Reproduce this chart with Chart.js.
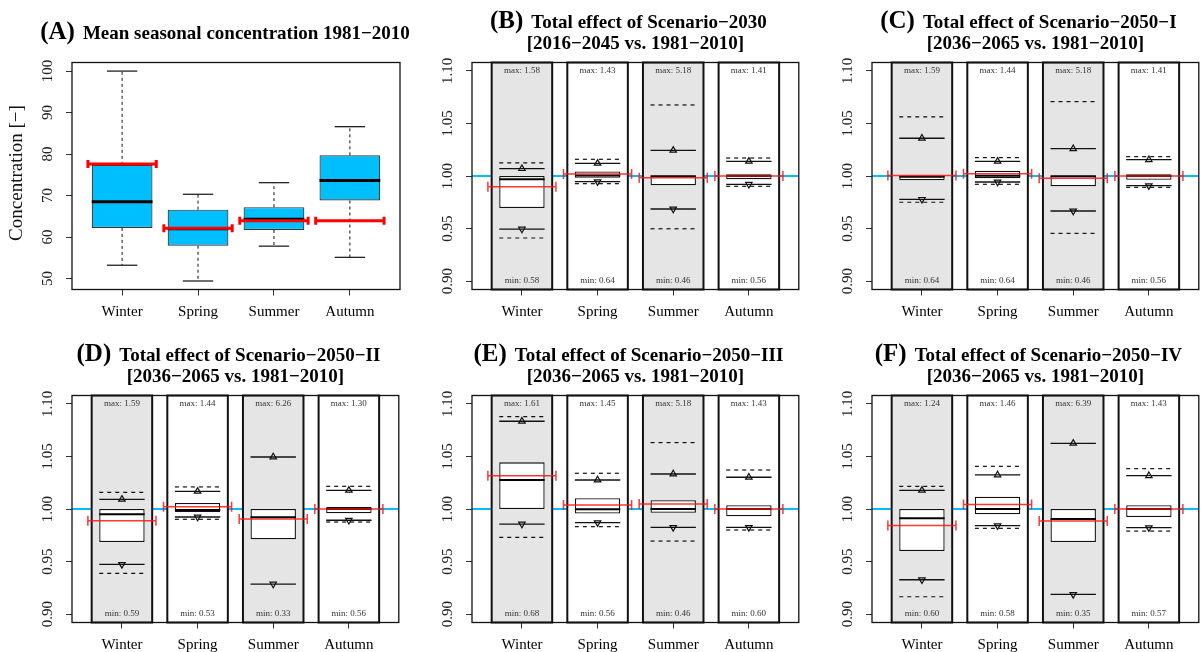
<!DOCTYPE html>
<html>
<head>
<meta charset="utf-8">
<script src="https://cdn.jsdelivr.net/npm/chart.js@4.4.1/dist/chart.umd.min.js"></script>
<style>
  html, body { margin: 0; padding: 0; background: #fff; width: 1204px; height: 652px; overflow: hidden; }
  canvas { position: absolute; }
</style>
</head>
<body>
<canvas id="pA" width="420" height="333" style="left:0px;top:0px"></canvas>
<canvas id="pB" width="404" height="333" style="left:400px;top:0px"></canvas>
<canvas id="pC" width="404" height="333" style="left:800px;top:0px"></canvas>
<canvas id="pD" width="404" height="319" style="left:0px;top:333px"></canvas>
<canvas id="pE" width="404" height="319" style="left:400px;top:333px"></canvas>
<canvas id="pF" width="404" height="319" style="left:800px;top:333px"></canvas>
<script>
const SERIF = '"Liberation Serif", "Times New Roman", serif';

const seasons = ['Winter', 'Spring', 'Summer', 'Autumn'];

// (A) mean seasonal concentration 1981−2010: box statistics per season
const concWhiskerLow  = [53.2, 49.4, 57.8, 55.1];
const concQ1          = [62.2, 57.9, 61.7, 68.8];
const concMedian      = [68.5, 62.0, 64.3, 73.6];
const concQ3          = [77.4, 66.6, 67.2, 79.7];
const concWhiskerHigh = [100.0, 70.3, 73.1, 86.6];
const concMean        = [77.6, 62.1, 63.9, 63.9];
const concTickValues  = [50, 60, 70, 80, 90, 100];

// (B)–(F) ratio of future to reference period; one row per scenario, one value per season
const scenarioLabels  = ['(B)', '(C)', '(D)', '(E)', '(F)'];
const scenarioTitles  = ['Total effect of Scenario\u22122030',
                         'Total effect of Scenario\u22122050\u2212I',
                         'Total effect of Scenario\u22122050\u2212II',
                         'Total effect of Scenario\u22122050\u2212III',
                         'Total effect of Scenario\u22122050\u2212IV'];
const scenarioPeriods = ['[2016\u22122045 vs. 1981\u22122010]',
                         '[2036\u22122065 vs. 1981\u22122010]',
                         '[2036\u22122065 vs. 1981\u22122010]',
                         '[2036\u22122065 vs. 1981\u22122010]',
                         '[2036\u22122065 vs. 1981\u22122010]'];

const ratioDashHigh  = [[1.0124, 1.0159, 1.0676, 1.0171],
                        [1.0562, 1.0175, 1.0708, 1.0184],
                        [1.0159, 1.0210, null,   1.0216],
                        [1.0879, 1.0340, 1.0632, 1.0371],
                        [1.0216, 1.0406, null,   1.0384]];
const ratioSolidHigh = [[1.0070, 1.0121, 1.0244, 1.0140],
                        [1.0359, 1.0140, 1.0260, 1.0155],
                        [1.0092, 1.0168, 1.0495, 1.0178],
                        [1.0835, 1.0276, 1.0333, 1.0302],
                        [1.0178, 1.0324, 1.0625, 1.0317]];
const ratioQ3        = [[1.0000, 1.0044, 1.0000, 1.0016],
                        [1.0003, 1.0050, 1.0000, 1.0016],
                        [1.0000, 1.0057, 1.0000, 1.0019],
                        [1.0444, 1.0102, 1.0083, 1.0035],
                        [1.0000, 1.0117, 1.0000, 1.0035]];
const ratioMedian    = [[0.9968, 1.0005, 0.9998, 1.0000],
                        [0.9992, 1.0003, 0.9998, 1.0000],
                        [0.9949, 0.9990, 0.9921, 1.0000],
                        [1.0276, 0.9997, 1.0000, 1.0000],
                        [0.9911, 1.0000, 0.9905, 1.0000]];
const ratioQ1        = [[0.9695, 0.9984, 0.9911, 0.9968],
                        [0.9959, 0.9978, 0.9902, 0.9965],
                        [0.9686, 0.9971, 0.9711, 0.9959],
                        [1.0000, 0.9956, 0.9965, 0.9930],
                        [0.9600, 0.9949, 0.9686, 0.9924]];
const ratioSolidLow  = [[0.9495, 0.9946, 0.9686, 0.9921],
                        [0.9778, 0.9943, 0.9667, 0.9908],
                        [0.9473, 0.9924, 0.9286, 0.9893],
                        [0.9857, 0.9870, 0.9825, 0.9825],
                        [0.9327, 0.9841, 0.9187, 0.9822]];
const ratioDashLow   = [[0.9410, 0.9927, 0.9498, 0.9902],
                        [0.9750, 0.9921, 0.9454, 0.9892],
                        [0.9387, 0.9902, null,   0.9876],
                        [0.9730, 0.9832, 0.9695, 0.9800],
                        [0.9165, 0.9816, null,   0.9790]];
const ratioMean      = [[0.9898, 1.0019, 0.9984, 1.0000],
                        [1.0005, 1.0022, 0.9978, 1.0000],
                        [0.9889, 1.0022, 0.9905, 1.0000],
                        [1.0317, 1.0038, 1.0048, 1.0000],
                        [0.9844, 1.0044, 0.9886, 1.0000]];
const ratioMaxText   = [['1.58', '1.43', '5.18', '1.41'],
                        ['1.59', '1.44', '5.18', '1.41'],
                        ['1.59', '1.44', '6.26', '1.30'],
                        ['1.61', '1.45', '5.18', '1.43'],
                        ['1.24', '1.46', '6.39', '1.43']];
const ratioMinText   = [['0.58', '0.64', '0.46', '0.56'],
                        ['0.64', '0.64', '0.46', '0.56'],
                        ['0.59', '0.53', '0.33', '0.56'],
                        ['0.68', '0.56', '0.46', '0.60'],
                        ['0.60', '0.58', '0.35', '0.57']];
const ratioTickLabels = ['0.90', '0.95', '1.00', '1.05', '1.10'];
const ratioReference  = 1.0;
const columnFills     = ['#E5E5E5', '#FFFFFF', '#E5E5E5', '#FFFFFF'];

// ---------- drawing helpers ----------
function hSeg(ctx, xs, ys, xc, half, v, color, width, dash) {
  if (v == null) return;
  const y = ys.getPixelForValue(v);
  ctx.save();
  ctx.strokeStyle = color; ctx.lineWidth = width; ctx.setLineDash(dash || []);
  ctx.beginPath();
  ctx.moveTo(xs.getPixelForValue(xc - half), y);
  ctx.lineTo(xs.getPixelForValue(xc + half), y);
  ctx.stroke();
  ctx.restore();
}

function meanBar(ctx, xs, ys, xc, half, v, color, width, capH) {
  const y = ys.getPixelForValue(v);
  const x1 = xs.getPixelForValue(xc - half), x2 = xs.getPixelForValue(xc + half);
  ctx.save();
  ctx.strokeStyle = color; ctx.lineWidth = width; ctx.setLineDash([]);
  ctx.beginPath();
  ctx.moveTo(x1, y); ctx.lineTo(x2, y);
  ctx.moveTo(x1, y - capH); ctx.lineTo(x1, y + capH);
  ctx.moveTo(x2, y - capH); ctx.lineTo(x2, y + capH);
  ctx.stroke();
  ctx.restore();
}

function drawFrame(chart) {
  const { ctx, chartArea: a } = chart;
  ctx.save();
  ctx.strokeStyle = '#111'; ctx.lineWidth = 1.3;
  ctx.strokeRect(a.left, a.top, a.right - a.left, a.bottom - a.top);
  ctx.restore();
}

function drawYLabels(chart, values, labels) {
  const { ctx, chartArea: a } = chart;
  const ys = chart.scales.y;
  ctx.save();
  ctx.font = '15px ' + SERIF; ctx.fillStyle = '#222';
  ctx.textAlign = 'center'; ctx.textBaseline = 'middle';
  values.forEach((v, i) => {
    ctx.save();
    ctx.translate(a.left - 24, ys.getPixelForValue(v));
    ctx.rotate(-Math.PI / 2);
    ctx.fillText(labels[i], 0, 0);
    ctx.restore();
  });
  ctx.restore();
}

function drawTitle(chart, label, line1, line2, base1, base2, shift) {
  const { ctx, chartArea: a } = chart;
  const mid = (a.left + a.right) / 2;
  ctx.save();
  ctx.fillStyle = '#000'; ctx.textBaseline = 'alphabetic'; ctx.textAlign = 'left';
  ctx.font = 'bold 25px ' + SERIF; const wl = ctx.measureText(label).width;
  ctx.font = 'bold 19px ' + SERIF; const wt = ctx.measureText(line1).width;
  const gap = 8;
  const x = mid - shift - (wl + gap + wt) / 2;
  ctx.font = 'bold 25px ' + SERIF; ctx.fillText(label, x, base1);
  ctx.font = 'bold 19px ' + SERIF; ctx.fillText(line1, x + wl + gap, base1);
  if (line2) { ctx.textAlign = 'center'; ctx.fillText(line2, mid, base2); }
  ctx.restore();
}

function baseOptions(yMin, yMax, yTicks, canvasH, padRight) {
  return {
    responsive: false,
    animation: false,
    events: [],
    layout: { padding: { left: 0, right: padRight, top: 62.5, bottom: 0 } },
    plugins: { legend: { display: false }, tooltip: { enabled: false } },
    scales: {
      x: {
        type: 'linear', min: 0.34, max: 4.66, bounds: 'data', offset: false,
        afterBuildTicks: s => { s.ticks = seasons.map((_, i) => ({ value: i + 1 })); },
        afterFit: s => { s.height = canvasH - 62.5 - 227; },
        ticks: {
          callback: v => seasons[Math.round(v) - 1] || '',
          font: { family: SERIF, size: 15 }, color: '#000',
          padding: 8, maxRotation: 0, minRotation: 0, autoSkip: false
        },
        grid: { offset: false, drawOnChartArea: false, drawTicks: true, tickLength: 6, color: '#333', lineWidth: 1 },
        border: { display: false }
      },
      y: {
        type: 'linear', min: yMin, max: yMax, bounds: 'data', beginAtZero: false,
        afterBuildTicks: s => { s.ticks = yTicks.map(v => ({ value: v })); },
        afterFit: s => { s.width = 72; },
        ticks: { display: false },
        grid: { drawOnChartArea: false, drawTicks: true, tickLength: 6, color: '#333', lineWidth: 1 },
        border: { display: false }
      }
    }
  };
}

// ---------- (A) concentration box plot ----------
(function () {
  const H = 333;
  const concPlugin = {
    id: 'concMarks',
    afterDatasetDraw(chart, args) {
      if (args.index !== 0) return;
      const { ctx } = chart, xs = chart.scales.x, ys = chart.scales.y;
      seasons.forEach((_, i) => {
        const xc = i + 1, xp = xs.getPixelForValue(xc);
        ctx.save();
        ctx.strokeStyle = '#111'; ctx.lineWidth = 1; ctx.setLineDash([3, 3]);
        ctx.beginPath();
        ctx.moveTo(xp, ys.getPixelForValue(concQ3[i])); ctx.lineTo(xp, ys.getPixelForValue(concWhiskerHigh[i]));
        ctx.moveTo(xp, ys.getPixelForValue(concQ1[i])); ctx.lineTo(xp, ys.getPixelForValue(concWhiskerLow[i]));
        ctx.stroke();
        ctx.restore();
        hSeg(ctx, xs, ys, xc, 0.2, concWhiskerHigh[i], '#222', 1.3);
        hSeg(ctx, xs, ys, xc, 0.2, concWhiskerLow[i], '#222', 1.3);
        hSeg(ctx, xs, ys, xc, 0.4, concMedian[i], '#000', 3);
      });
    },
    afterDatasetsDraw(chart) {
      const { ctx } = chart, xs = chart.scales.x, ys = chart.scales.y;
      seasons.forEach((_, i) => meanBar(ctx, xs, ys, i + 1, 0.45, concMean[i], '#FF0000', 3, 4));
      drawFrame(chart);
    },
    afterDraw(chart) {
      drawYLabels(chart, concTickValues, concTickValues.map(String));
      const { ctx, chartArea: a } = chart;
      ctx.save();
      ctx.font = '19px ' + SERIF; ctx.fillStyle = '#111';
      ctx.textAlign = 'center'; ctx.textBaseline = 'middle';
      ctx.translate(17, (a.top + a.bottom) / 2 - 3);
      ctx.rotate(-Math.PI / 2);
      ctx.fillText('Concentration [\u2212]', 0, 0);
      ctx.restore();
      drawTitle(chart, '(A)', 'Mean seasonal concentration 1981\u22122010', null, 39.3, 0, 11);
    }
  };
  new Chart(document.getElementById('pA'), {
    type: 'bar',
    data: {
      datasets: [{
        type: 'bar',
        data: seasons.map((_, i) => ({ x: i + 1, y: [concQ1[i], concQ3[i]] })),
        backgroundColor: '#00BFFF', borderColor: '#333', borderWidth: 1.2, borderSkipped: false,
        barPercentage: 0.8, categoryPercentage: 1, grouped: false, order: 1
      }]
    },
    options: baseOptions(47.35, 102.07, concTickValues, H, 20),
    plugins: [concPlugin]
  });
})();

// ---------- (B)–(F) scenario ratio panels ----------
const ratioTickValues = ratioTickLabels.map(Number);
['pB', 'pC', 'pD', 'pE', 'pF'].forEach((id, k) => {
  const H = k < 2 ? 333 : 319;
  const ratioPlugin = {
    id: 'ratioMarks',
    beforeDatasetsDraw(chart) {
      const { ctx, chartArea: a } = chart, xs = chart.scales.x, ys = chart.scales.y;
      // reference level across the whole plot
      const yRef = ys.getPixelForValue(ratioReference);
      ctx.save();
      ctx.strokeStyle = '#00BFFF'; ctx.lineWidth = 2;
      ctx.beginPath(); ctx.moveTo(a.left, yRef); ctx.lineTo(a.right, yRef); ctx.stroke();
      ctx.restore();
      // season columns
      seasons.forEach((_, i) => {
        const x1 = xs.getPixelForValue(i + 1 - 0.4), x2 = xs.getPixelForValue(i + 1 + 0.4);
        ctx.save();
        ctx.fillStyle = columnFills[i];
        ctx.fillRect(x1, a.top, x2 - x1, a.bottom - a.top);
        ctx.strokeStyle = '#111'; ctx.lineWidth = 2;
        ctx.strokeRect(x1, a.top, x2 - x1, a.bottom - a.top);
        ctx.restore();
      });
    },
    afterDatasetDraw(chart, args) {
      if (args.index !== 0) return;
      const { ctx } = chart, xs = chart.scales.x, ys = chart.scales.y;
      seasons.forEach((_, i) => {
        const xc = i + 1;
        hSeg(ctx, xs, ys, xc, 0.3, ratioDashHigh[k][i], '#111', 1.2, [4, 4]);
        hSeg(ctx, xs, ys, xc, 0.3, ratioDashLow[k][i], '#111', 1.2, [4, 4]);
        hSeg(ctx, xs, ys, xc, 0.3, ratioSolidHigh[k][i], '#111', 1.3);
        hSeg(ctx, xs, ys, xc, 0.3, ratioSolidLow[k][i], '#111', 1.3);
        hSeg(ctx, xs, ys, xc, 0.3, ratioMedian[k][i], '#000', 2);
      });
    },
    afterDatasetsDraw(chart) {
      const { ctx } = chart, xs = chart.scales.x, ys = chart.scales.y;
      seasons.forEach((_, i) => meanBar(ctx, xs, ys, i + 1, 0.45, ratioMean[k][i], 'rgba(255,20,20,0.85)', 1.5, 5));
      ctx.save();
      ctx.font = '9px ' + SERIF; ctx.fillStyle = '#333';
      ctx.textAlign = 'center'; ctx.textBaseline = 'middle';
      seasons.forEach((_, i) => {
        const xp = xs.getPixelForValue(i + 1);
        ctx.fillText('max: ' + ratioMaxText[k][i], xp, ys.getPixelForValue(ratioTickValues[ratioTickValues.length - 1]));
        ctx.fillText('min: ' + ratioMinText[k][i], xp, ys.getPixelForValue(ratioTickValues[0]));
      });
      ctx.restore();
      drawFrame(chart);
    },
    afterDraw(chart) {
      drawYLabels(chart, ratioTickValues, ratioTickLabels);
      drawTitle(chart, scenarioLabels[k], scenarioTitles[k], scenarioPeriods[k], 27.7, 48.5, 7);
    }
  };
  const tri = (vals, rot) => ({
    type: 'line', showLine: false,
    data: seasons.map((_, i) => ({ x: i + 1, y: vals[i] })),
    pointStyle: 'triangle', pointRadius: 3.7, pointRotation: rot,
    pointBorderColor: '#111', pointBackgroundColor: 'rgba(0,0,0,0)', pointBorderWidth: 1.2,
    order: 0
  });
  new Chart(document.getElementById(id), {
    type: 'bar',
    data: {
      datasets: [
        {
          type: 'bar',
          data: seasons.map((_, i) => ({ x: i + 1, y: [ratioQ1[k][i], ratioQ3[k][i]] })),
          backgroundColor: '#FFFFFF', borderColor: '#111', borderWidth: 1.3, borderSkipped: false,
          barPercentage: 0.6, categoryPercentage: 1, grouped: false, order: 1
        },
        tri(ratioSolidHigh[k], 0),
        tri(ratioSolidLow[k], 180)
      ]
    },
    options: baseOptions(0.892, 1.108, ratioTickValues, H, 4),
    plugins: [ratioPlugin]
  });
});
</script>
</body>
</html>
